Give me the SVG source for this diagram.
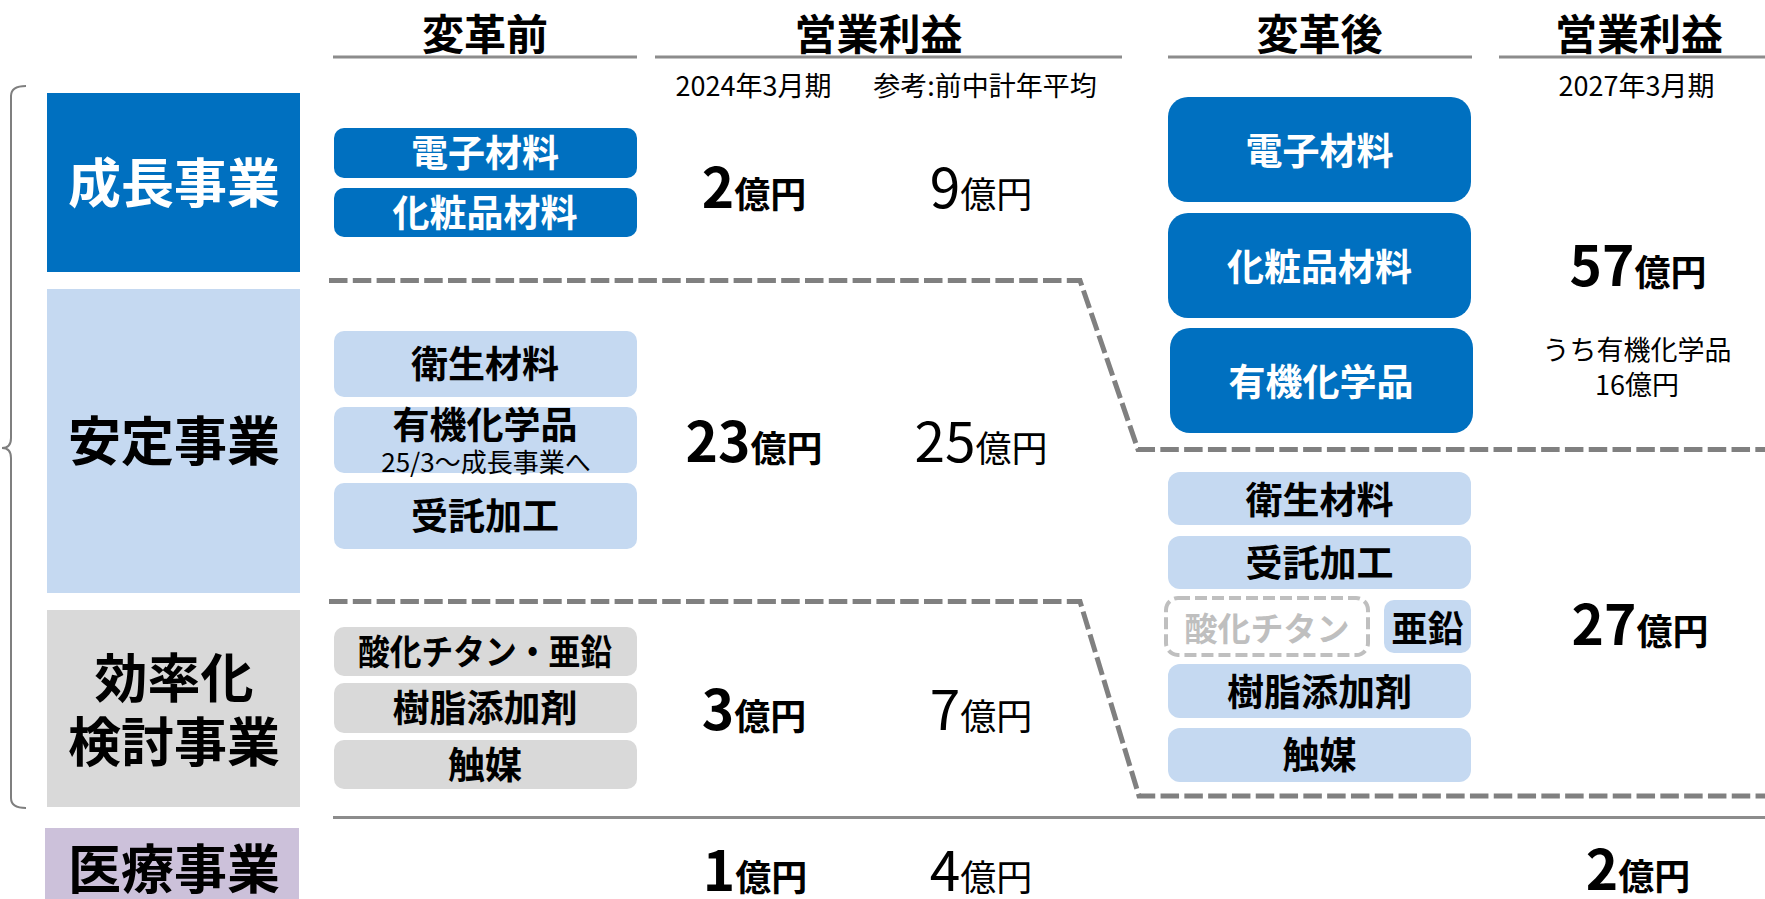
<svg xmlns="http://www.w3.org/2000/svg" width="1765" height="899" viewBox="0 0 1765 899">
<style>
text{font-family:"Noto Sans CJK JP","Noto Sans",sans-serif;text-anchor:middle;fill:#000}
.hdr{font-size:42px;font-weight:bold}
.cat{font-size:53px;font-weight:bold}
.catw{font-size:53px;font-weight:bold;fill:#fff}
.item{font-size:37px;font-weight:bold}
.itemw{font-size:37px;font-weight:bold;fill:#fff}
.sm{font-size:27px}
.nb{font-weight:bold}
.big{font-size:55px}
.unit{font-size:36px}
.blue{fill:#0070C0}
.lb{fill:#C5D9F1}
.gr{fill:#D9D9D9}
.pu{fill:#CCC1DA}
.ul{stroke:#8C8C8C;stroke-width:3;fill:none}
.dash{stroke:#808080;stroke-width:5;stroke-dasharray:18.5 5.3;fill:none}
</style>
<g id="connectors">
<path class="ul" d="M333,57H637M655,57H1122M1168,57H1472M1499,57H1765"/>
<path class="ul" d="M333,817.5H1765"/>
<path class="dash" d="M329,280.5H1080L1138,449.5H1765"/>
<path class="dash" d="M329,601.5H1080L1139,796H1765"/>
<path d="M26,86Q11,86 11,96V438Q11,448 2,448Q11,448 11,458V798Q11,808 26,808" fill="none" stroke="#7F7F7F" stroke-width="2"/>
</g>
<g id="headers">
<text class="hdr" x="485" y="49.5">変革前</text>
<text class="hdr" x="878.5" y="49.5">営業利益</text>
<text class="hdr" x="1319.5" y="49.5">変革後</text>
<text class="hdr" x="1639" y="49.5">営業利益</text>
<text class="sm" x="753.5" y="95.5">2024年3月期</text>
<text class="sm" x="985" y="95.5">参考:前中計年平均</text>
<text class="sm" x="1636.5" y="95.5">2027年3月期</text>
</g>
<g id="cat-growth"><rect class="blue" x="47" y="93" width="253" height="179"/><text class="catw" x="174" y="203">成長事業</text></g>
<g id="cat-stable"><rect class="lb" x="47" y="289" width="253" height="304"/><text class="cat" x="174" y="461">安定事業</text></g>
<g id="cat-eff"><rect class="gr" x="47" y="610" width="253" height="197"/><text class="cat" x="174" y="698">効率化</text><text class="cat" x="174" y="762">検討事業</text></g>
<g id="cat-med"><rect class="pu" x="45" y="828" width="254" height="71"/><text class="cat" x="174" y="889">医療事業</text></g>
<g id="before-denshi"><rect class="blue" x="334" y="128" width="303" height="50" rx="10"/><text class="itemw" x="485" y="167">電子材料</text></g>
<g id="before-keshohin"><rect class="blue" x="334" y="188" width="303" height="49" rx="10"/><text class="itemw" x="485" y="226.5">化粧品材料</text></g>
<g id="before-eisei"><rect class="lb" x="334" y="331" width="303" height="66" rx="10"/><text class="item" x="485" y="378">衛生材料</text></g>
<g id="before-yuki"><rect class="lb" x="334" y="407" width="303" height="66" rx="10"/><text class="item" x="485" y="439">有機化学品</text><text class="sm" x="486" y="472" style="font-size:26px">25/3～成長事業へ</text></g>
<g id="before-jutaku"><rect class="lb" x="334" y="483" width="303" height="66" rx="10"/><text class="item" x="485" y="530">受託加工</text></g>
<g id="before-sanka"><rect class="gr" x="334" y="627" width="303" height="49" rx="10"/><text class="item" x="485" y="665" style="font-size:35px" textLength="254" lengthAdjust="spacingAndGlyphs">酸化チタン・亜鉛</text></g>
<g id="before-jushi"><rect class="gr" x="334" y="683" width="303" height="50" rx="10"/><text class="item" x="485" y="722">樹脂添加剤</text></g>
<g id="before-shokubai"><rect class="gr" x="334" y="740" width="303" height="49" rx="10"/><text class="item" x="485" y="778.5">触媒</text></g>
<g id="profits-before">
<text x="754" y="208" class="nb"><tspan class="big">2</tspan><tspan class="unit">億円</tspan></text>
<text x="981" y="208"><tspan class="big">9</tspan><tspan class="unit">億円</tspan></text>
<text x="754" y="462" class="nb"><tspan class="big">23</tspan><tspan class="unit">億円</tspan></text>
<text x="981" y="462"><tspan class="big">25</tspan><tspan class="unit">億円</tspan></text>
<text x="754" y="730" class="nb"><tspan class="big">3</tspan><tspan class="unit">億円</tspan></text>
<text x="981" y="730"><tspan class="big">7</tspan><tspan class="unit">億円</tspan></text>
<text x="755" y="891" class="nb"><tspan class="big">1</tspan><tspan class="unit">億円</tspan></text>
<text x="981" y="891"><tspan class="big">4</tspan><tspan class="unit">億円</tspan></text>
</g>
<g id="after-denshi"><rect class="blue" x="1168" y="97" width="303" height="105" rx="20"/><text class="itemw" x="1319.5" y="165">電子材料</text></g>
<g id="after-keshohin"><rect class="blue" x="1168" y="213" width="303" height="105" rx="20"/><text class="itemw" x="1319.5" y="280.5">化粧品材料</text></g>
<g id="after-yuki"><rect class="blue" x="1170" y="328" width="303" height="105" rx="20"/><text class="itemw" x="1321" y="395.5">有機化学品</text></g>
<g id="after-eisei"><rect class="lb" x="1168" y="472" width="303" height="53" rx="12"/><text class="item" x="1319.5" y="513.5">衛生材料</text></g>
<g id="after-jutaku"><rect class="lb" x="1168" y="536" width="303" height="53" rx="12"/><text class="item" x="1319.5" y="576.5">受託加工</text></g>
<g id="after-sanka"><rect x="1166" y="598" width="202" height="57" rx="12" fill="none" stroke="#BFBFBF" stroke-width="4" stroke-dasharray="12 5"/><text class="item" x="1267" y="641" style="font-size:33px;fill:#BFBFBF">酸化チタン</text></g>
<g id="after-aen"><rect class="lb" x="1384" y="600" width="87" height="53" rx="10"/><text class="item" x="1427.5" y="641.5" style="font-size:36px">亜鉛</text></g>
<g id="after-jushi"><rect class="lb" x="1168" y="664" width="303" height="54" rx="12"/><text class="item" x="1319.5" y="705.5">樹脂添加剤</text></g>
<g id="after-shokubai"><rect class="lb" x="1168" y="728" width="303" height="54" rx="12"/><text class="item" x="1319.5" y="769">触媒</text></g>
<g id="profits-after">
<text x="1638" y="286" class="nb"><tspan class="big">57</tspan><tspan class="unit">億円</tspan></text>
<text class="sm" x="1637" y="360">うち有機化学品</text>
<text class="sm" x="1637" y="395">16億円</text>
<text x="1640" y="645" class="nb"><tspan class="big">27</tspan><tspan class="unit">億円</tspan></text>
<text x="1638" y="890" class="nb"><tspan class="big">2</tspan><tspan class="unit">億円</tspan></text>
</g>
</svg>
